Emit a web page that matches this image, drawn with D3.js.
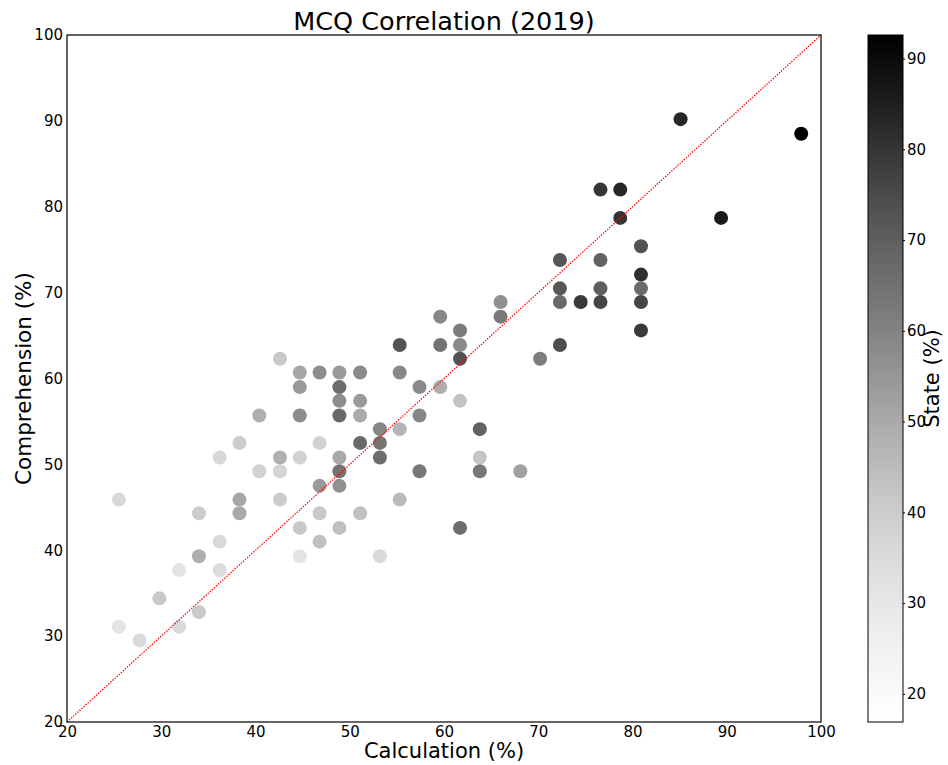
<!DOCTYPE html>
<html>
<head>
<meta charset="utf-8">
<script src="https://cdn.jsdelivr.net/npm/d3@7"></script>
<style>
  body { margin: 0; background: #fff; }
  svg { font-family: "DejaVu Sans", sans-serif; }
</style>
</head>
<body>
<div id="chart"></div>
<script>
// calculation %, comprehension %, state %
var calc = [25.5, 25.5, 27.7, 29.8, 31.9, 31.9, 34.0, 34.0, 34.0, 36.2,
            36.2, 36.2, 38.3, 38.3, 38.3, 40.4, 40.4, 42.6, 42.6, 42.6,
            42.6, 44.7, 44.7, 44.7, 44.7, 44.7, 44.7, 46.8, 46.8, 46.8,
            46.8, 46.8, 48.9, 48.9, 48.9, 48.9, 48.9, 48.9, 48.9, 48.9,
            51.1, 51.1, 51.1, 51.1, 51.1, 53.2, 53.2, 53.2, 53.2, 55.3,
            55.3, 55.3, 55.3, 57.4, 57.4, 57.4, 59.6, 59.6, 59.6, 61.7,
            61.7, 61.7, 61.7, 61.7, 63.8, 63.8, 63.8, 66.0, 66.0, 68.1,
            70.2, 72.3, 72.3, 72.3, 72.3, 74.5, 76.6, 76.6, 76.6, 76.6,
            78.7, 78.7, 80.9, 80.9, 80.9, 80.9, 80.9, 85.1, 89.4, 97.9];
var comp = [45.9, 31.1, 29.5, 34.4, 37.7, 31.1, 44.3, 39.3, 32.8, 50.8,
            41.0, 37.7, 52.5, 45.9, 44.3, 55.7, 49.2, 62.3, 50.8, 49.2,
            45.9, 60.7, 59.0, 55.7, 50.8, 42.6, 39.3, 60.7, 52.5, 47.5,
            44.3, 41.0, 60.7, 59.0, 57.4, 55.7, 50.8, 49.2, 47.5, 42.6,
            60.7, 57.4, 55.7, 52.5, 44.3, 54.1, 52.5, 50.8, 39.3, 63.9,
            60.7, 54.1, 45.9, 59.0, 55.7, 49.2, 67.2, 63.9, 59.0, 65.6,
            63.9, 62.3, 57.4, 42.6, 54.1, 50.8, 49.2, 68.9, 67.2, 49.2,
            62.3, 73.8, 70.5, 68.9, 63.9, 68.9, 82.0, 73.8, 70.5, 68.9,
            82.0, 78.7, 75.4, 72.1, 70.5, 68.9, 65.6, 90.2, 78.7, 88.5];
var state = [36, 31, 35, 41, 31, 35.5, 40, 48.5, 41, 36,
             35.5, 34.5, 40, 50.5, 50, 48.5, 38.5, 41, 48, 37.5,
             40, 50.5, 54, 57.5, 38, 41, 31, 57.5, 38, 54,
             41, 44, 54, 66, 57.5, 67, 50, 64, 56.5, 44,
             58, 54, 49.5, 67, 43.5, 59, 64, 66, 35, 73,
             58.5, 47, 45.3, 58, 59, 63, 58.5, 64, 48.5, 62,
             58, 73, 43, 66, 69, 42.5, 63, 56.5, 63, 52.5,
             61.5, 72, 72, 67, 74, 79, 79.5, 69, 70, 76,
             83, 80, 73, 81, 66.5, 76, 79, 83, 86, 92.6];
var axisTicks = [20, 30, 40, 50, 60, 70, 80, 90, 100];
var barTicks = [20, 30, 40, 50, 60, 70, 80, 90];
var stateRange = [16.9, 92.6];

var W = 948, H = 765;
var m = {left: 67, top: 35, right: 821, bottom: 722};
var cb = {x: 868, w: 35};

var svg = d3.select("#chart").append("svg")
    .attr("width", W).attr("height", H);

var x = d3.scaleLinear().domain([20, 100]).range([m.left, m.right]);
var y = d3.scaleLinear().domain([20, 100]).range([m.bottom, m.top]);
var color = d3.scaleSequential(d3.interpolateGreys).domain(stateRange);

var data = calc.map(function(c, i) {
  return {x: c, y: comp[i], s: state[i]};
});

svg.append("g").selectAll("circle")
  .data(data)
  .enter().append("circle")
    .attr("cx", function(d) { return x(d.x); })
    .attr("cy", function(d) { return y(d.y); })
    .attr("r", 7)
    .attr("fill", function(d) { return color(d.s); });

svg.append("line")
    .attr("x1", x(20)).attr("y1", y(20))
    .attr("x2", x(100)).attr("y2", y(100))
    .attr("stroke", "#ff0000")
    .attr("stroke-width", 1.3)
    .attr("stroke-dasharray", "1.4,1.4");

// frame
svg.append("rect")
    .attr("x", m.left).attr("y", m.top)
    .attr("width", m.right - m.left).attr("height", m.bottom - m.top)
    .attr("fill", "none").attr("stroke", "#000").attr("stroke-width", 1.2);

var xAxis = svg.append("g")
    .attr("transform", "translate(0," + m.bottom + ")")
    .call(d3.axisBottom(x).tickValues(axisTicks).tickSize(0).tickPadding(4));
var yAxis = svg.append("g")
    .attr("transform", "translate(" + m.left + ",0)")
    .call(d3.axisLeft(y).tickValues(axisTicks).tickSize(0).tickPadding(4));
[xAxis, yAxis].forEach(function(a) {
  a.select(".domain").remove();
  a.selectAll("text").attr("font-size", 15).attr("fill", "#000")
    .attr("font-family", "DejaVu Sans");
});

svg.append("text")
    .attr("x", (m.left + m.right) / 2).attr("y", 30)
    .attr("text-anchor", "middle")
    .attr("font-size", 25.5)
    .text("MCQ Correlation (2019)");

svg.append("text")
    .attr("x", (m.left + m.right) / 2).attr("y", 758)
    .attr("text-anchor", "middle")
    .attr("font-size", 21)
    .text("Calculation (%)");

svg.append("text")
    .attr("transform", "translate(31," + ((m.top + m.bottom) / 2) + ") rotate(-90)")
    .attr("text-anchor", "middle")
    .attr("font-size", 21.5)
    .text("Comprehension (%)");

// colorbar
var defs = svg.append("defs");
var grad = defs.append("linearGradient")
    .attr("id", "cbar")
    .attr("x1", 0).attr("y1", 1).attr("x2", 0).attr("y2", 0);
d3.range(0, 1.0001, 0.05).forEach(function(t) {
  grad.append("stop")
    .attr("offset", t)
    .attr("stop-color", d3.interpolateGreys(t));
});

var cy = d3.scaleLinear().domain(stateRange).range([m.bottom, m.top]);

svg.append("rect")
    .attr("x", cb.x).attr("y", m.top)
    .attr("width", cb.w).attr("height", m.bottom - m.top)
    .attr("fill", "url(#cbar)")
    .attr("stroke", "#000").attr("stroke-width", 1);

var cAxis = svg.append("g")
    .attr("transform", "translate(" + (cb.x + cb.w) + ",0)")
    .call(d3.axisRight(cy).tickValues(barTicks).tickSize(2).tickPadding(2));
cAxis.select(".domain").remove();
cAxis.selectAll("text").attr("font-size", 15).attr("fill", "#000")
  .attr("font-family", "DejaVu Sans");

svg.append("text")
    .attr("transform", "translate(939," + ((m.top + m.bottom) / 2) + ") rotate(-90)")
    .attr("text-anchor", "middle")
    .attr("font-size", 21)
    .text("State (%)");
</script>
</body>
</html>
